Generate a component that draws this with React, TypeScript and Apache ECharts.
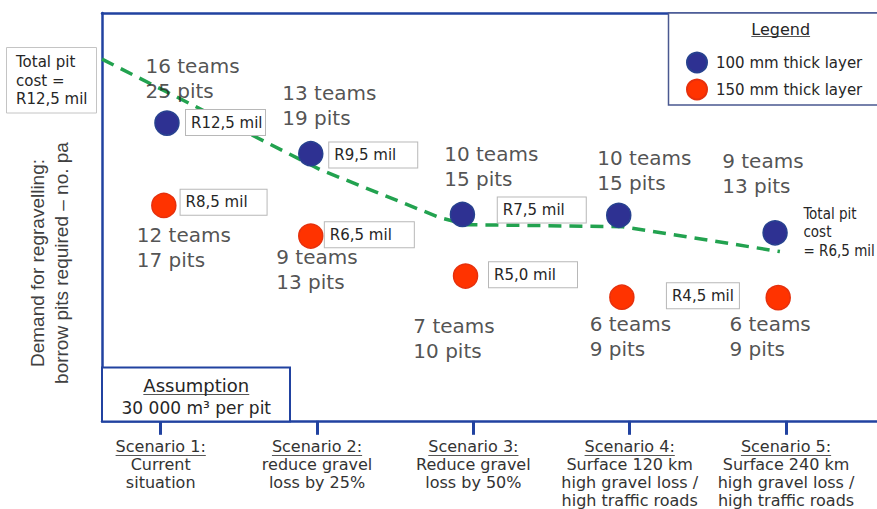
import { useEffect, useRef } from 'react';
import * as echarts from 'echarts';

// Scenario axis
const scenarioValues = [1, 2, 3, 4, 5];
const scenarioTitles = ['Scenario 1:', 'Scenario 2:', 'Scenario 3:', 'Scenario 4:', 'Scenario 5:'];
const scenarioNotes = [
  ['Current', 'situation'],
  ['reduce gravel', 'loss by 25%'],
  ['Reduce gravel', 'loss by 50%'],
  ['Surface 120 km', 'high gravel loss /', 'high traffic roads'],
  ['Surface 240 km', 'high gravel loss /', 'high traffic roads'],
];

// 100 mm thick layer
const thinX = [1.04, 1.96, 2.93, 3.93, 4.93];
const thinLevel = [73.0, 65.5, 50.6, 50.4, 46.1];
const thinTeams = [16, 13, 10, 10, 9];
const thinPits = [25, 19, 15, 15, 13];
const thinCost = ['R12,5 mil', 'R9,5 mil', 'R7,5 mil', '', ''];

// 150 mm thick layer
const thickX = [1.02, 1.96, 2.95, 3.95, 4.95];
const thickLevel = [52.8, 45.3, 35.5, 30.3, 30.2];
const thickTeams = [12, 9, 7, 6, 6];
const thickPits = [17, 13, 10, 9, 9];
const thickCost = ['R8,5 mil', 'R6,5 mil', 'R5,0 mil', 'R4,5 mil', ''];

// Total pit cost trend
const trendX = [0.6245, 2.019, 2.787, 2.959, 3.957, 4.961];
const trendLevel = [88.7, 61.6, 49.8, 48.1, 47.6, 41.5];
const totalStartCost = 'R12,5 mil';
const totalEndCost = 'R6,5 mil';

// Label layout (pixel offsets from each dot)
const thinCostLayout = [
  { dist: 6.3, dy: -0.6, w: 81 },
  { dist: 5.7, dy: 1.3, w: 90 },
  { dist: 22.6, dy: -4.5, w: 90 },
];
const thickCostLayout = [
  { dist: 4, dy: -3.3, w: 88 },
  { dist: 1.3, dy: -1.4, w: 91 },
  { dist: 10.7, dy: -1.2, w: 90 },
  { dist: 32.3, dy: -1.4, w: 74 },
];
const thinTeamLayout = [[-21, -44], [-28, -48], [-17.7, -47.5], [-21, -44.7], [-52.4, -58.8]];
const thickTeamLayout = [[-26.6, 42.7], [-34, 34.1], [-51.7, 62.5], [-31.7, 39.5], [-48.3, 38.9]];

const FRAME = '#2142a0';
const TEXT = '#262626';
const FONT = '"DejaVu Sans", "Noto Sans", sans-serif';
const FONT_NARROW = '"DejaVu Sans Condensed", "DejaVu Sans", sans-serif';
const BLUE = '#2e3192';
const RED = '#ff3300';

function textWidth(text: string, font: string) {
  const ctx = document.createElement('canvas').getContext('2d');
  if (!ctx) return text.length * 8;
  ctx.font = font;
  return ctx.measureText(text).width;
}

function costLabel(text: string, layout?: { dist: number; dy: number; w: number }) {
  if (!text || !layout) return { show: false };
  return {
    show: true,
    position: 'right',
    distance: layout.dist,
    offset: [0, layout.dy],
    formatter: text,
    width: layout.w - 12,
    padding: [0, 5],
    lineHeight: 25,
    backgroundColor: '#ffffff',
    borderColor: '#b8b8b8',
    borderWidth: 1,
    color: TEXT,
    fontSize: 15,
    fontFamily: FONT,
  };
}

export default function App() {
  const ref = useRef<HTMLDivElement>(null);

  useEffect(() => {
    document.body.style.margin = '0';
    if (!ref.current) return;
    const chart = echarts.init(ref.current, undefined, { renderer: 'svg' });

    const thinData = thinX.map((x, i) => {
      const item: any = { value: [x, thinLevel[i]], label: costLabel(thinCost[i], thinCostLayout[i]) };
      if (i === thinX.length - 1) {
        item.label = {
          show: true,
          position: 'right',
          distance: 15.6,
          offset: [0, -0.8],
          formatter: `Total pit\ncost\n= ${totalEndCost}`,
          lineHeight: 18.5,
          color: TEXT,
          fontSize: 15,
          fontFamily: FONT_NARROW,
        };
      }
      return item;
    });
    const thickData = thickX.map((x, i) => ({
      value: [x, thickLevel[i]],
      label: costLabel(thickCost[i], thickCostLayout[i]),
    }));

    const teamLabel = (teams: number, pits: number, pos: number[]) => ({
      show: true,
      position: pos,
      align: 'left',
      verticalAlign: 'middle',
      formatter: `${teams} teams\n${pits} pits`,
      lineHeight: 25,
      fontSize: 20,
      fontFamily: FONT,
      color: TEXT,
    });
    const teamData = [
      ...thinX.map((x, i) => ({ value: [x, thinLevel[i]], label: teamLabel(thinTeams[i], thinPits[i], thinTeamLayout[i]) })),
      ...thickX.map((x, i) => ({ value: [x, thickLevel[i]], label: teamLabel(thickTeams[i], thickPits[i], thickTeamLayout[i]) })),
    ];

    const option: any = {
      animation: false,
      grid: { left: 102, right: 0, top: 13, bottom: 87, containLabel: false },
      legend: {
        data: ['100 mm thick layer', '150 mm thick layer'],
        orient: 'vertical',
        left: 686,
        top: 51.5,
        icon: 'circle',
        itemWidth: 20,
        itemHeight: 20,
        itemGap: 5,
        padding: 0,
        z: 10,
        selectedMode: false,
        textStyle: { fontSize: 15, fontFamily: FONT, color: TEXT, padding: [0, 0, 0, 4] },
      },
      xAxis: [
        {
          type: 'value',
          min: 0.6245,
          max: 5.582,
          position: 'bottom',
          axisLine: { show: true, onZero: false, lineStyle: { color: FRAME, width: 2.5 } },
          axisTick: { show: true, customValues: scenarioValues, length: 14, lineStyle: { color: FRAME, width: 3 } },
          axisLabel: {
            show: true,
            customValues: scenarioValues,
            margin: 17,
            formatter: (v: number) => {
              const i = scenarioValues.indexOf(Math.round(v));
              if (i < 0) return '';
              return [scenarioTitles[i], ...scenarioNotes[i]].join('\n');
            },
            lineHeight: 17.8,
            fontSize: 16,
            fontFamily: FONT,
            color: '#333333',
            align: 'center',
          },
          splitLine: { show: false },
        },
        {
          type: 'value',
          min: 0.6245,
          max: 5.582,
          position: 'top',
          axisLine: { show: true, onZero: false, lineStyle: { color: FRAME, width: 2.5 } },
          axisTick: { show: false },
          axisLabel: { show: false },
          splitLine: { show: false },
        },
      ],
      yAxis: {
        type: 'value',
        min: 0,
        max: 100,
        axisLine: { show: true, onZero: false, lineStyle: { color: FRAME, width: 2.5 } },
        axisTick: { show: false },
        axisLabel: { show: false },
        splitLine: { show: false },
      },
      series: [
        {
          name: 'Total pit cost',
          type: 'line',
          data: trendX.map((x, i) => [x, trendLevel[i]]),
          showSymbol: false,
          symbol: 'none',
          z: 2,
          lineStyle: { color: '#22a24f', width: 3.5, type: [13, 8] },
        },
        {
          name: 'teams',
          type: 'scatter',
          data: teamData,
          symbolSize: 1,
          itemStyle: { color: 'rgba(0,0,0,0)' },
          silent: true,
          z: 3,
        },
        {
          name: '100 mm thick layer',
          type: 'scatter',
          data: thinData,
          symbol: 'circle',
          symbolSize: 24,
          z: 4,
          itemStyle: { color: BLUE, borderColor: '#27418f', borderWidth: 1.5, opacity: 1 },
        },
        {
          name: '150 mm thick layer',
          type: 'scatter',
          data: thickData,
          symbol: 'circle',
          symbolSize: 24,
          z: 4,
          itemStyle: { color: RED, borderColor: '#e6300c', borderWidth: 1.5, opacity: 1 },
        },
      ],
    };

    chart.setOption(option);

    // Annotation boxes, titles and underlines
    const underline = (cx: number, y: number, text: string, size: number) => {
      const w = textWidth(text, `${size}px "DejaVu Sans"`);
      return {
        type: 'line',
        z: 20,
        shape: { x1: cx - w / 2, y1: y, x2: cx + w / 2, y2: y },
        style: { stroke: '#555555', lineWidth: 1 },
      };
    };

    const graphics: any[] = [
      {
        type: 'text',
        x: 49.7,
        y: 263,
        rotation: Math.PI / 2,
        style: {
          text: 'Demand for regravelling:\nborrow pits required \u2013 no. pa',
          align: 'center',
          verticalAlign: 'middle',
          fontSize: 19,
          lineHeight: 24,
          fontFamily: '"Liberation Sans", Arial, sans-serif',
          fill: '#404040',
        },
      },
      {
        type: 'rect',
        z: 20,
        shape: { x: 6.5, y: 47.5, width: 90, height: 65.5 },
        style: { fill: '#ffffff', stroke: '#c4c4c4', lineWidth: 1 },
      },
      {
        type: 'text',
        z: 21,
        x: 16,
        y: 80.5,
        style: {
          text: `Total pit\ncost =\n${totalStartCost}`,
          verticalAlign: 'middle',
          fontSize: 15,
          lineHeight: 18.5,
          fontFamily: FONT,
          fill: TEXT,
        },
      },
      {
        type: 'rect',
        z: 5,
        shape: { x: 668.5, y: 13, width: 240, height: 92 },
        style: { fill: '#ffffff', stroke: '#4a5890', lineWidth: 1.5 },
      },
      {
        type: 'text',
        z: 21,
        x: 780.7,
        y: 29,
        style: { text: 'Legend', align: 'center', verticalAlign: 'middle', fontSize: 16, fontFamily: FONT, fill: TEXT },
      },
      underline(780.7, 36.5, 'Legend', 16),
      {
        type: 'rect',
        z: 20,
        shape: { x: 102, y: 367.5, width: 188, height: 54 },
        style: { fill: '#ffffff', stroke: FRAME, lineWidth: 2 },
      },
      {
        type: 'text',
        z: 21,
        x: 196.3,
        y: 385.7,
        style: { text: 'Assumption', align: 'center', verticalAlign: 'middle', fontSize: 18, fontFamily: FONT, fill: TEXT },
      },
      underline(196.3, 394.5, 'Assumption', 18),
      {
        type: 'text',
        z: 21,
        x: 196.3,
        y: 407.7,
        style: { text: '30 000 m\u00b3 per pit', align: 'center', verticalAlign: 'middle', fontSize: 17, fontFamily: FONT, fill: TEXT },
      },
    ];

    scenarioValues.forEach((v, i) => {
      const px = chart.convertToPixel({ xAxisIndex: 0 }, v) as number;
      graphics.push(underline(px, 455.5, scenarioTitles[i], 16));
    });

    chart.setOption({ graphic: graphics });

    return () => chart.dispose();
  }, []);

  return <div ref={ref} style={{ width: 877, height: 509 }} />;
}
